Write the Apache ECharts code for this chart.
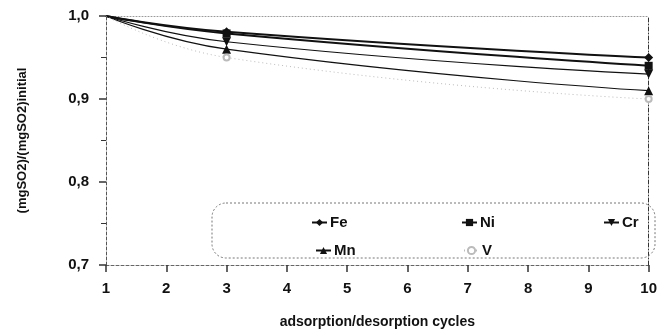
<!DOCTYPE html>
<html>
<head>
<meta charset="utf-8">
<script src="https://cdn.jsdelivr.net/npm/echarts@6/dist/echarts.min.js"></script>
<style>
  html, body { margin: 0; padding: 0; background: #fff; }
  #chart { width: 660px; height: 335px; }
</style>
</head>
<body>
<div id="chart"></div>
<script>
// cycles where the measurements were read
const cycles = [1, 3, 10];

// relative SO2 capacity per metal
const fe = [1.0, 0.981, 0.950];
const ni = [1.0, 0.979, 0.940];
const cr = [1.0, 0.969, 0.930];
const mn = [1.0, 0.960, 0.910];
const v  = [1.0, 0.950, 0.900];

const xTicks = [1, 2, 3, 4, 5, 6, 7, 8, 9, 10];

const chartDom = document.getElementById('chart');
const myChart = echarts.init(chartDom);

// build [x, y] pairs; no marker on the starting point
function pairs(vals) {
    return cycles.map((c, i) => ({
        value: [c, vals[i]],
        symbol: i === 0 ? 'none' : undefined
    }));
}

function line(name, vals, symbol, size, width, color, type) {
    return {
        name: name,
        type: 'line',
        smooth: true,
        data: pairs(vals),
        symbol: symbol,
        symbolSize: size,
        showSymbol: true,
        lineStyle: { color: color, width: width, type: type || 'solid' },
        itemStyle: { color: color },
        z: 3
    };
}

const font = 'Liberation Sans, Arial, sans-serif';

// one legend per entry so the columns sit where the reference has them
function legendAt(name, left, top) {
    return {
        data: [name],
        left: left, top: top,
        itemWidth: 15, itemHeight: 9,
        textStyle: { fontSize: 15, fontWeight: 'bold', color: '#111', fontFamily: font, padding: [0, 0, 0, -2] }
    };
}

const option = {
    animation: false,
    textStyle: { fontFamily: font },
    grid: { left: 106, right: 10, top: 16, bottom: 70 },
    legend: [
        legendAt('Fe', 306, 210),
        legendAt('Ni', 456, 210),
        legendAt('Cr', 598, 210),
        legendAt('Mn', 310, 238),
        legendAt('V', 458, 238)
    ],
    graphic: [{
        type: 'rect',
        shape: { x: 212, y: 203, width: 443, height: 55, r: 14 },
        style: { fill: 'none', stroke: '#777', lineWidth: 1, lineDash: [2, 2] },
        z: 1
    }],
    xAxis: [
        {
            type: 'value',
            min: 1, max: 10, interval: 1,
            name: 'adsorption/desorption cycles',
            nameLocation: 'middle',
            nameGap: 50,
            nameTextStyle: { fontSize: 14, fontWeight: 'bold', color: '#111' },
            axisLine: { lineStyle: { color: '#666', type: [3, 2], width: 1 } },
            axisTick: { length: 7, lineStyle: { color: '#333', width: 1.5 } },
            axisLabel: {
                fontSize: 15, fontWeight: 'bold', color: '#111', margin: 16,
                formatter: v => xTicks.includes(v) ? String(v) : ''
            },
            splitLine: { show: false }
        },
        {
            type: 'value', position: 'top',
            min: 1, max: 10,
            axisLine: { show: true, lineStyle: { color: '#999', type: [1, 2] } },
            axisTick: { show: false }, axisLabel: { show: false }, splitLine: { show: false }
        }
    ],
    yAxis: [
        {
            type: 'value',
            min: 0.7, max: 1.0, interval: 0.1,
            name: '(mgSO2)/(mgSO2)initial',
            nameLocation: 'middle',
            nameGap: 77,
            nameTextStyle: { fontSize: 13, fontWeight: 'bold', color: '#111' },
            axisLine: { show: true, lineStyle: { color: '#555', type: [3, 2], width: 1 } },
            axisTick: { length: 7, lineStyle: { color: '#333', width: 1.5 } },
            minorTick: { show: true, splitNumber: 2, length: 5, lineStyle: { color: '#333' } },
            axisLabel: {
                fontSize: 15, fontWeight: 'bold', color: '#111', margin: 17,
                formatter: v => v.toFixed(1).replace('.', ',')
            },
            splitLine: { show: false }
        },
        {
            type: 'value', position: 'right',
            min: 0.7, max: 1.0,
            axisLine: { show: true, lineStyle: { color: '#333', type: [4, 2, 1, 2] } },
            axisTick: { show: false }, axisLabel: { show: false }, splitLine: { show: false }
        }
    ],
    series: [
        line('Fe', fe, 'diamond', 9, 2, '#111'),
        line('Ni', ni, 'rect', 8, 2, '#111'),
        line('Cr', cr, 'path://M0,0 L10,0 L5,9 Z', 9, 1.2, '#111'),
        line('Mn', mn, 'triangle', 9, 1.2, '#111'),
        line('V', v, 'emptyCircle', 6, 1, '#bbb', [1, 3])
    ]
};

myChart.setOption(option);
window.addEventListener('resize', myChart.resize);
</script>
</body>
</html>
